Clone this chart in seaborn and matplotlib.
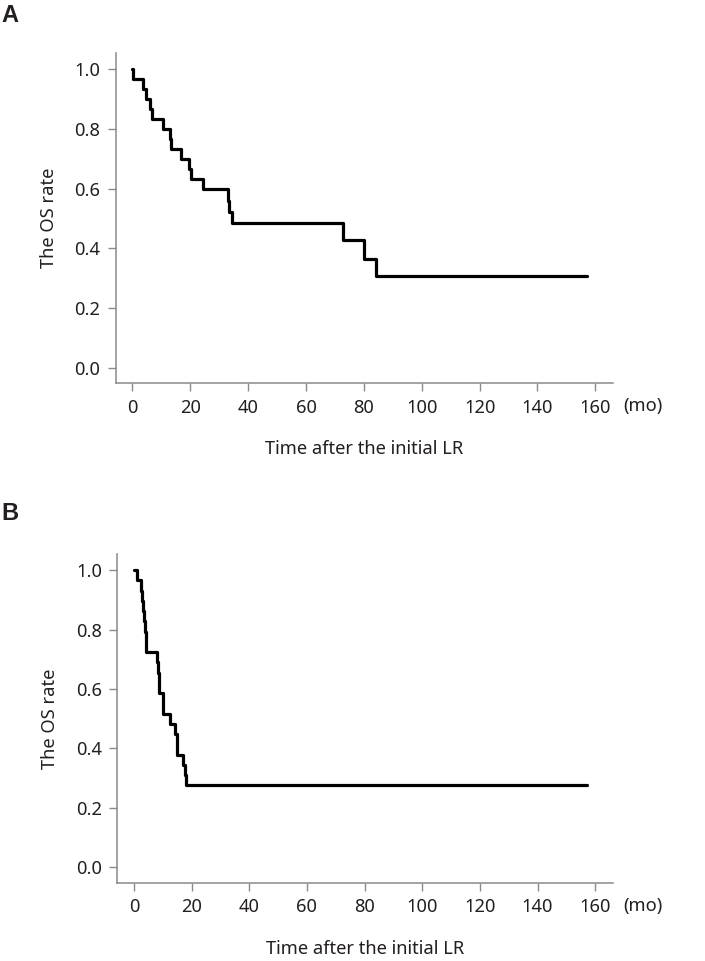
import matplotlib
matplotlib.use("Agg")
import matplotlib.pyplot as plt
import seaborn as sns
import pandas as pd

# ---- data ----
time_a = [0, 0.3, 3.5, 4.7, 6.1, 6.6, 10.7, 13.0, 13.3, 16.8, 19.7, 20.2, 24.3,
          32.9, 33.5, 34.3, 72.7, 80.1, 84.3, 157]
surv_a = [1.0, 0.967, 0.933, 0.900, 0.867, 0.833, 0.800, 0.767, 0.733, 0.700, 0.667,
          0.633, 0.600, 0.560, 0.521, 0.486, 0.427, 0.363, 0.306, 0.306]

time_b = [0, 1.2, 2.4, 2.7, 3.2, 3.5, 3.9, 4.1, 4.3, 7.9, 8.4, 8.6, 8.8, 10.0, 10.2,
          12.4, 14.1, 14.8, 15.0, 17.0, 17.6, 18.2, 157]
surv_b = [1.0, 0.966, 0.931, 0.897, 0.862, 0.828, 0.793, 0.759, 0.724, 0.690, 0.655,
          0.621, 0.586, 0.552, 0.517, 0.483, 0.448, 0.414, 0.379, 0.345, 0.310, 0.276,
          0.276]

x_ticks = [0, 20, 40, 60, 80, 100, 120, 140, 160]
y_ticks = [0.0, 0.2, 0.4, 0.6, 0.8, 1.0]
y_tick_labels = ["0.0", "0.2", "0.4", "0.6", "0.8", "1.0"]
panel_labels = ["A", "B"]
x_label = "Time after the initial LR"
y_label = "The OS rate"
unit_label = "(mo)"

sns.set_style("ticks")
plt.rcParams["font.family"] = ["Noto Sans", "DejaVu Sans"]

TEXT = "#231f20"
SPINE = "#8a8a8a"
FS = 13.2

fig = plt.figure(figsize=(7.05, 9.61), dpi=100)
W, H = 705, 961

def add_ax(left, top, right, bottom):
    return fig.add_axes([left / W, 1 - bottom / H, (right - left) / W, (bottom - top) / H])

axes = [add_ax(115.7, 53, 612.7, 383.3), add_ax(117.3, 554, 612.5, 882.7)]
datasets = [(time_a, surv_a), (time_b, surv_b)]

for ax, (t, s), lab in zip(axes, datasets, panel_labels):
    df = pd.DataFrame({"time": t, "surv": s})
    sns.lineplot(data=df, x="time", y="surv", ax=ax, drawstyle="steps-post",
                 estimator=None, sort=False, color="black", linewidth=2.3)
    ax.set_xlim(-5.8, 166)
    ax.set_ylim(-0.052, 1.055)
    ax.set_xticks(x_ticks)
    ax.set_xticklabels([str(v) for v in x_ticks])
    ax.set_yticks(y_ticks)
    ax.set_yticklabels(y_tick_labels)
    for side in ["top", "right"]:
        ax.spines[side].set_visible(False)
    for side in ["left", "bottom"]:
        ax.spines[side].set_color(SPINE)
        ax.spines[side].set_linewidth(1.1)
    ax.tick_params(axis="both", direction="out", length=6, width=1.0, color=SPINE,
                   labelsize=FS, labelcolor=TEXT, pad=5)
    ax.set_xlabel(x_label, fontsize=FS, color=TEXT, labelpad=17)
    ax.set_ylabel(y_label, fontsize=FS, color=TEXT, labelpad=12)
    ax.annotate(unit_label, xy=(1, 0), xycoords="axes fraction", xytext=(22, -16.5),
                textcoords="offset points", ha="center", va="center",
                fontsize=FS, color=TEXT)

for lab, ypix in zip(panel_labels, [16, 514]):
    fig.text(1 / W, 1 - ypix / H, lab, fontsize=17, fontweight="bold",
             family=["Liberation Sans", "DejaVu Sans"], color=TEXT,
             ha="left", va="center")

fig.savefig("out.png", dpi=100, facecolor="white")
